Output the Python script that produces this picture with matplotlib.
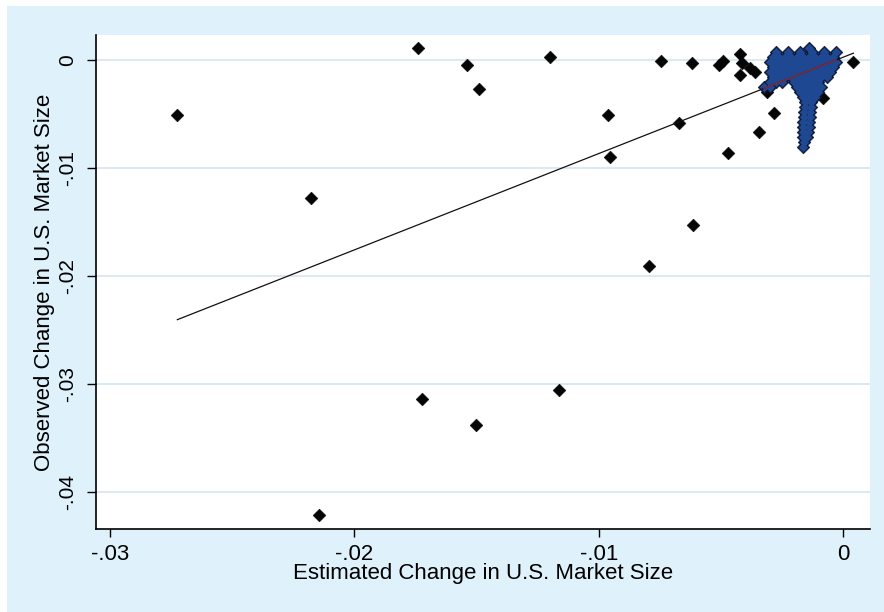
import numpy as np
import matplotlib
matplotlib.use('Agg')
from matplotlib import pyplot as plt
from matplotlib import patches as pat

plt.rcParams['font.family'] = ['Liberation Sans', 'DejaVu Sans']

# scattered observations (estimated, observed)
est_x = [-0.02725, -0.02176, -0.01741, -0.01725, -0.02146, -0.01540, -0.01490,
         -0.01503, -0.01198, -0.01161, -0.00961, -0.00954, -0.00746, -0.00670,
         -0.00794, -0.00618, -0.00615, -0.00472, -0.00343, -0.00281,
         -0.00510, -0.00490, -0.00422, -0.00415, -0.00422, -0.00381, -0.00360,
         -0.00312, -0.00081, 0.00042]
obs_y = [-0.00508, -0.01272, 0.00113, -0.03140, -0.04209, -0.00039, -0.00267,
         -0.03378, 0.00030, -0.03054, -0.00507, -0.00892, -0.00007, -0.00579,
         -0.01905, -0.00026, -0.01527, -0.00855, -0.00665, -0.00489,
         -0.00042, -0.00002, 0.00060, -0.00026, -0.00134, -0.00072, -0.00104,
         -0.00289, -0.00350, -0.00011]

# dense cluster close to zero, one list of x values per observed level
even_x = [-0.002988, -0.002743, -0.002497, -0.002251, -0.002006, -0.001760,
          -0.001515, -0.001269, -0.001023, -0.000778, -0.000532, -0.000287]
odd_x = [-0.003111, -0.002865, -0.002620, -0.002374, -0.002129, -0.001883,
         -0.001637, -0.001392, -0.001146, -0.000901, -0.000655, -0.000409]
clu_rows_y = [0.001158, 0.000788, 0.000324, -0.000139, -0.000602, -0.001066,
              -0.001529, -0.001993, -0.002456, -0.002919, -0.003383,
              -0.003846, -0.004310, -0.004773, -0.005236, -0.005700,
              -0.006163, -0.006627, -0.007090, -0.007553, -0.008017]
clu_rows_x = [
    [-0.001392],
    [-0.002743, -0.002251, -0.001760, -0.001269, -0.000778, -0.000287],
    odd_x[1:],
    even_x,
    odd_x[1:],
    even_x[:-1],
    odd_x[1:-1],
    [-0.002988, -0.002743, -0.002497, -0.002006, -0.001760, -0.001515,
     -0.001269, -0.001023],
    [-0.003234, -0.002988, -0.001883, -0.001637, -0.001392, -0.001146, -0.000901],
    [-0.001760, -0.001515, -0.001269, -0.001023],
    [-0.001637, -0.001392, -0.001146],
    [-0.001555, -0.001310],
    [-0.001555, -0.001310],
    [-0.001596, -0.001351],
    [-0.001596, -0.001351],
    [-0.001637, -0.001392],
    [-0.001637, -0.001392],
    [-0.001637, -0.001433],
    [-0.001637, -0.001474],
    [-0.001596],
    [-0.001637],
]
clu_x = [x for row in clu_rows_x for x in row]
clu_y = [y for y, row in zip(clu_rows_y, clu_rows_x) for x in row]

# linear fit
fit_slope = 0.8925
fit_icept = 0.00030

xticks = [-0.03, -0.02, -0.01, 0]
xlabels = ['-.03', '-.02', '-.01', '0']
yticks = [-0.04, -0.03, -0.02, -0.01, 0]
ylabels = ['-.04', '-.03', '-.02', '-.01', '0']

fig = plt.figure(figsize=(8.84, 6.12), dpi=100, facecolor='white')
bg = pat.Rectangle((7/884, 0), 1 - 7/884, 1 - 6/612, transform=fig.transFigure,
                   facecolor='#dff2fb', edgecolor='none', zorder=-10)
fig.patches.append(bg)

ax = fig.add_axes([96/884, 1 - 529/612, 774/884, 494/612])
ax.set_facecolor('white')

ax.scatter(est_x, obs_y, marker='D', s=42, color='#050505', linewidths=0.4, zorder=3)
ax.scatter(clu_x, clu_y, marker='D', s=42, color='#0b1535', linewidths=0.4, zorder=3)
ax.scatter(clu_x, clu_y, marker='D', s=24, color='#1f4892', linewidths=0, zorder=4)

allx = np.array(est_x + clu_x)
lx = np.array([allx.min(), allx.max()])
ax.plot(lx, fit_slope*lx + fit_icept, color='#151010', lw=0.9, zorder=5)
cx = np.array([min(clu_x), max(clu_x)])
ax.plot(cx, fit_slope*cx + fit_icept, color='#8a2a3c', lw=1.0, zorder=6)

ax.set_xlim(-0.03058, 0.0011)
ax.set_ylim(-0.04342, 0.00236)
ax.set_xticks(xticks)
ax.set_xticklabels(xlabels, fontsize=16)
ax.set_yticks(yticks)
ax.set_yticklabels(ylabels, fontsize=15, rotation=90, va='center')
ax.tick_params(axis='x', length=5.5, width=1, pad=5)
ax.tick_params(axis='y', length=6.5, width=1, pad=7)
ax.grid(axis='y', color='#d6e8f0', lw=1.3)
ax.set_axisbelow(True)
for s in ['top', 'right']:
    ax.spines[s].set_visible(False)
for s in ['left', 'bottom']:
    ax.spines[s].set_linewidth(1.2)

ax.set_xlabel('Estimated Change in U.S. Market Size', fontsize=16, labelpad=-1)
ax.set_ylabel('Observed Change in U.S. Market Size', fontsize=16, labelpad=2)

fig.savefig('out.png', dpi=100, facecolor=fig.get_facecolor())
